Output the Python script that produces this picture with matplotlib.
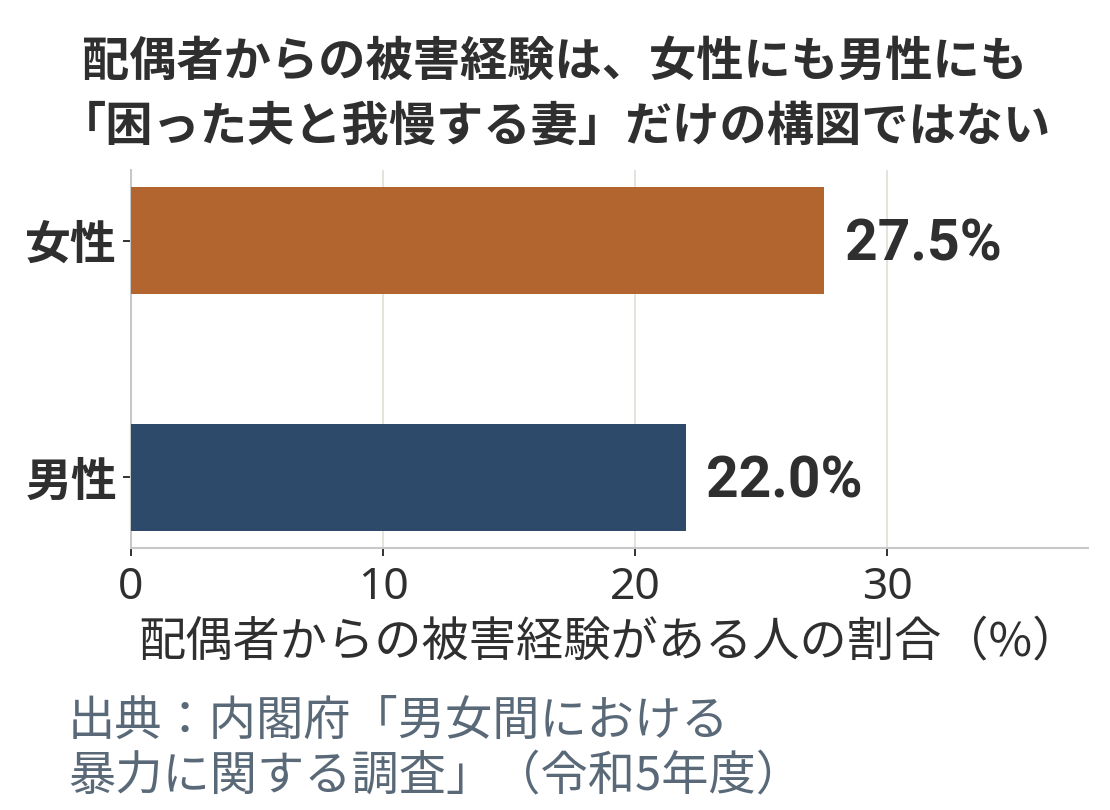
import matplotlib
matplotlib.use('Agg')
import matplotlib.pyplot as plt

plt.rcParams['font.family'] = ['Noto Sans CJK JP', 'DejaVu Sans']

# data
categories = ['男性', '女性']
values = [22.0, 27.5]
bar_colors = ['#2E4A6A', '#B36530']
xticks = [0, 10, 20, 30]

title = '配偶者からの被害経験は、女性にも男性にも\n「困った夫と我慢する妻」だけの構図ではない'
xlabel = '配偶者からの被害経験がある人の割合（%）'
source = '出典：内閣府「男女間における\n暴力に関する調査」（令和5年度）'

text_col = '#2F2F2F'

fig = plt.figure(figsize=(11.1, 8.1), dpi=100)
ax = fig.add_axes([0.118, 0.3235, 0.862, 0.4665])

ypos = list(range(len(categories)))
ax.barh(ypos, values, height=0.45, color=bar_colors, zorder=3)

for y, v in zip(ypos, values):
    ax.annotate(f'{v:.1f}%', xy=(v, y), xytext=(15, -3), textcoords='offset points',
                ha='left', va='center', fontsize=41, fontweight='bold',
                family=['Roboto', 'DejaVu Sans'], color=text_col)

ax.set_xlim(0, max(values) * 1.38)
ax.set_xticks(xticks)
ax.set_xticklabels([str(t) for t in xticks], fontsize=32, color=text_col,
                   family=['Noto Sans', 'DejaVu Sans'])
ax.set_yticks(ypos)
ax.set_yticklabels(categories, fontsize=33, fontweight='bold', color=text_col)

ax.grid(axis='x', color='#E3E0D8', linewidth=1.3, zorder=0)
ax.set_axisbelow(True)
for s in ['top', 'right']:
    ax.spines[s].set_visible(False)
for s in ['left', 'bottom']:
    ax.spines[s].set_color('#C8C8C8')
    ax.spines[s].set_linewidth(1.5)
ax.tick_params(axis='both', length=6, width=1.3, color='#222222')
ax.tick_params(axis='x', pad=7)
ax.tick_params(axis='y', pad=4)

ax.set_xlabel(xlabel, fontsize=34, color=text_col, labelpad=6)

fig.text(0.5, 0.953, title, ha='center', va='top', fontsize=34, fontweight='bold',
         color=text_col, linespacing=1.45)
fig.text(0.061, 0.012, source, ha='left', va='bottom', fontsize=34,
         color='#5A6978', linespacing=1.15)

fig.savefig('out.png', dpi=100)
